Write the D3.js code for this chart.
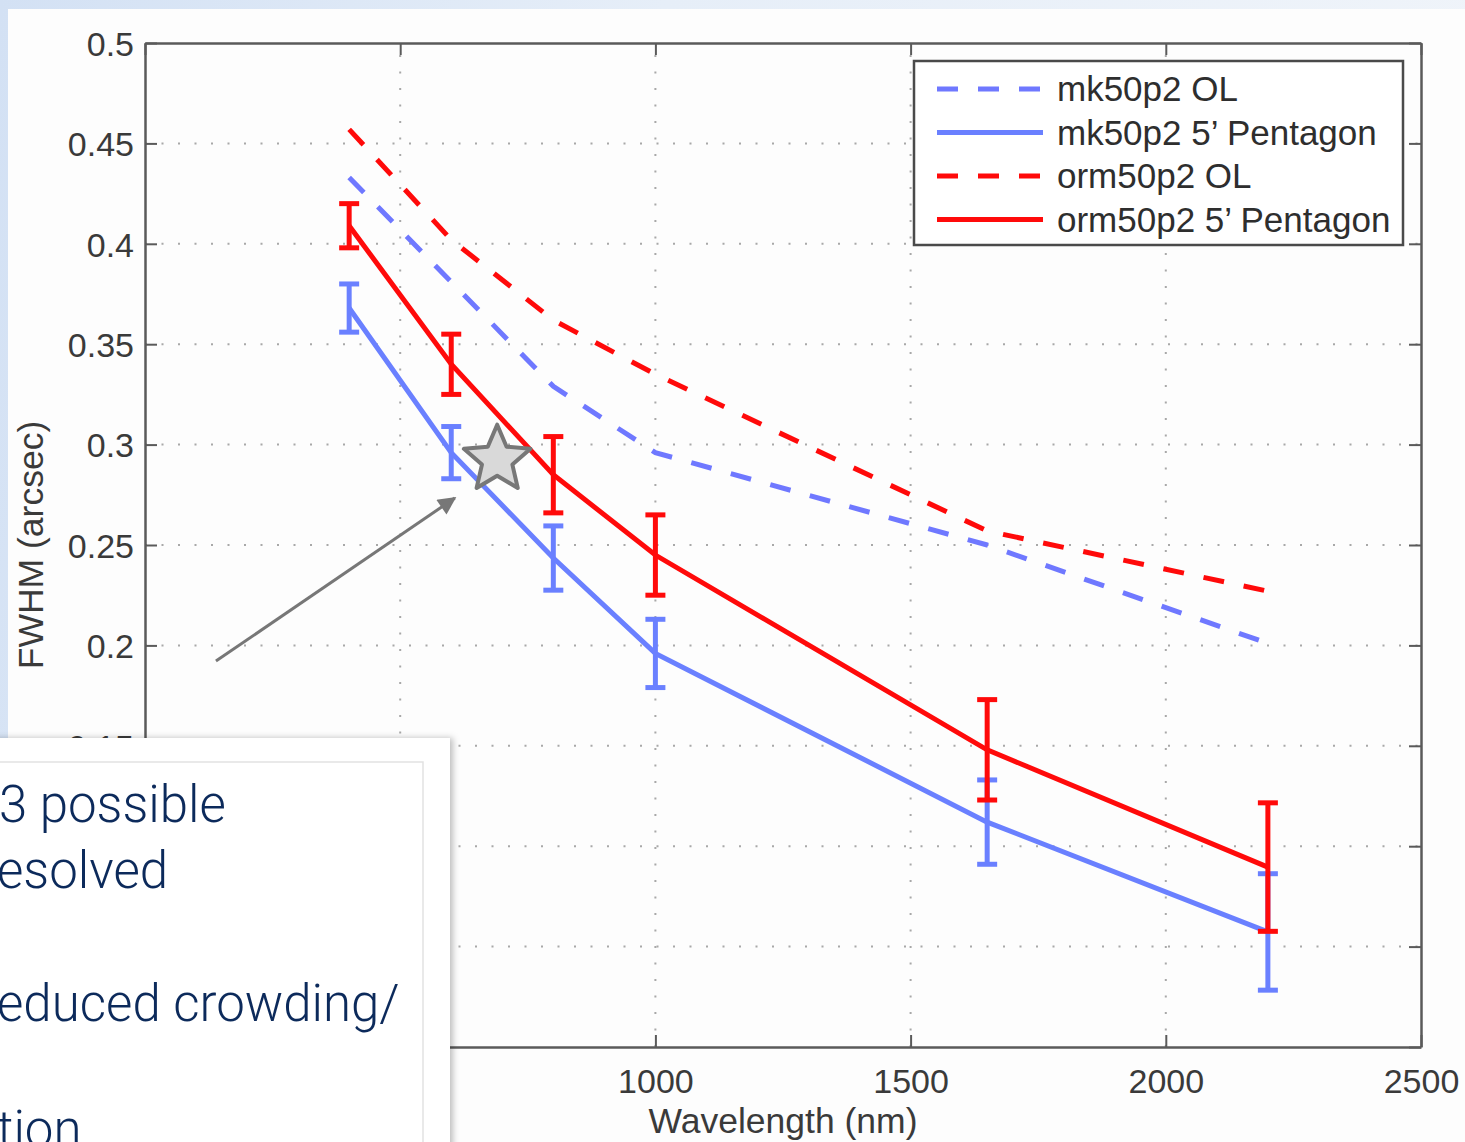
<!DOCTYPE html>
<html>
<head>
<meta charset="utf-8">
<script src="https://d3js.org/d3.v7.min.js"></script>
<style>
  html, body { margin: 0; padding: 0; }
  body {
    width: 1465px; height: 1142px; overflow: hidden;
    background: linear-gradient(100deg, #d3e1f4 0%, #e6eef8 40%, #f1f5fa 100%);
  }
  svg { display: block; }
</style>
</head>
<body>
<svg id="chart" width="1465" height="1142"></svg>
<script>
// wavelengths (nm) of the six simulated bands
const wavelengths = [400, 600, 800, 1000, 1650, 2200];

// FWHM (arcsec)
const mkOL = [0.433, 0.381, 0.329, 0.296, 0.250, 0.201];
const mkPentagon = [0.368, 0.296, 0.2435, 0.196, 0.112, 0.0573];
const mkPentagonErr = [0.012, 0.013, 0.016, 0.017, 0.021, 0.029];
const ormOL = [0.457, 0.402, 0.362, 0.335, 0.257, 0.227];
const ormPentagon = [0.409, 0.340, 0.285, 0.245, 0.148, 0.0896];
const ormPentagonErr = [0.011, 0.015, 0.019, 0.020, 0.025, 0.032];

const xTicks = [0, 500, 1000, 1500, 2000, 2500];
const yTicks = [0, 0.05, 0.1, 0.15, 0.2, 0.25, 0.3, 0.35, 0.4, 0.45, 0.5];

const legendLabels = ["mk50p2 OL", "mk50p2 5\u2019 Pentagon", "orm50p2 OL", "orm50p2 5\u2019 Pentagon"];

const overlayLines = ["3 possible", "esolved", "educed crowding/", "tion"];

const blue = "#6a80ff", blueDash = "#6f78ff", red = "#ff0a0a";
const font = "'Liberation Sans', Arial, Helvetica, sans-serif";

const svg = d3.select("#chart");

// white figure sheet
svg.append("rect")
  .attr("x", 8).attr("y", 9)
  .attr("width", 1465).attr("height", 1142)
  .attr("fill", "#fdfdfd");

const x = d3.scaleLinear().domain([0, 2500]).range([145, 1421]);
const y = d3.scaleLinear().domain([0, 0.5]).range([1047, 43]);

// dotted grid
const grid = svg.append("g")
  .attr("stroke", "#a8a8a8")
  .attr("stroke-width", 2)
  .attr("stroke-dasharray", "2,14.5");

grid.selectAll("line.gx")
  .data(xTicks.slice(1, -1))
  .enter()
  .append("line")
  .attr("x1", d => x(d)).attr("x2", d => x(d))
  .attr("y1", y(0)).attr("y2", y(0.5));

grid.selectAll("line.gy")
  .data(yTicks.slice(1, -1))
  .enter()
  .append("line")
  .attr("x1", x(0)).attr("x2", x(2500))
  .attr("y1", d => y(d)).attr("y2", d => y(d));

// axes (matlab style box, ticks inward on all sides)
const axisColor = "#5a5a5a";
const tickFmt = d3.format("~g");

const axBottom = svg.append("g")
  .attr("transform", `translate(0,${y(0)})`)
  .call(d3.axisBottom(x).tickValues(xTicks).tickSizeInner(-12).tickSizeOuter(0).tickPadding(22).tickFormat(tickFmt));
const axTop = svg.append("g")
  .attr("transform", `translate(0,${y(0.5)})`)
  .call(d3.axisTop(x).tickValues(xTicks).tickSizeInner(-12).tickSizeOuter(0).tickFormat(""));
const axLeft = svg.append("g")
  .attr("transform", `translate(${x(0)},0)`)
  .call(d3.axisLeft(y).tickValues(yTicks).tickSizeInner(-12).tickSizeOuter(0).tickPadding(11).tickFormat(tickFmt));
const axRight = svg.append("g")
  .attr("transform", `translate(${x(2500)},0)`)
  .call(d3.axisRight(y).tickValues(yTicks).tickSizeInner(-12).tickSizeOuter(0).tickFormat(""));

[axBottom, axTop, axLeft, axRight].forEach(g => {
  g.select(".domain").attr("stroke", axisColor).attr("stroke-width", 2.5);
  g.selectAll(".tick line").attr("stroke", axisColor).attr("stroke-width", 2);
  g.selectAll(".tick text")
    .attr("fill", "#3a3a3a")
    .style("font-family", font)
    .style("font-size", "34px");
});
axLeft.selectAll(".tick text").attr("dy", "0.36em");

// axis titles
svg.append("text")
  .attr("x", (x(0) + x(2500)) / 2)
  .attr("y", 1133)
  .attr("text-anchor", "middle")
  .attr("fill", "#3a3a3a")
  .style("font-family", font)
  .style("font-size", "35.5px")
  .text("Wavelength (nm)");

svg.append("text")
  .attr("transform", `translate(43,${(y(0) + y(0.5)) / 2}) rotate(-90)`)
  .attr("text-anchor", "middle")
  .attr("fill", "#3a3a3a")
  .style("font-family", font)
  .style("font-size", "35.5px")
  .text("FWHM (arcsec)");

// series
const line = d3.line()
  .x(d => x(d.w))
  .y(d => y(d.v));

function rows(values, errs) {
  return wavelengths.map((w, i) => ({ w: w, v: values[i], e: errs ? errs[i] : 0 }));
}

const series = [
  { data: rows(mkOL), color: blueDash, dash: "21,20", err: false },
  { data: rows(ormOL), color: red, dash: "21,20", err: false },
  { data: rows(mkPentagon, mkPentagonErr), color: blue, dash: null, err: true },
  { data: rows(ormPentagon, ormPentagonErr), color: red, dash: null, err: true }
];

series.forEach(s => {
  const g = svg.append("g");
  g.append("path")
    .datum(s.data)
    .attr("fill", "none")
    .attr("stroke", s.color)
    .attr("stroke-width", 5)
    .attr("stroke-dasharray", s.dash)
    .attr("d", line);

  if (s.err) {
    const bars = g.selectAll("g.err")
      .data(s.data)
      .enter()
      .append("g")
      .attr("stroke", s.color)
      .attr("stroke-width", 5);
    bars.append("line")
      .attr("x1", d => x(d.w)).attr("x2", d => x(d.w))
      .attr("y1", d => y(d.v - d.e)).attr("y2", d => y(d.v + d.e));
    bars.append("line")
      .attr("x1", d => x(d.w) - 10).attr("x2", d => x(d.w) + 10)
      .attr("y1", d => y(d.v + d.e)).attr("y2", d => y(d.v + d.e));
    bars.append("line")
      .attr("x1", d => x(d.w) - 10).attr("x2", d => x(d.w) + 10)
      .attr("y1", d => y(d.v - d.e)).attr("y2", d => y(d.v - d.e));
  }
});

// legend
const legend = svg.append("g");
legend.append("rect")
  .attr("x", 914).attr("y", 61)
  .attr("width", 489).attr("height", 184)
  .attr("fill", "#fff")
  .attr("stroke", "#4a4a4a")
  .attr("stroke-width", 2.5);

const legendStyle = [
  { color: blueDash, dash: "21,20" },
  { color: blue, dash: null },
  { color: red, dash: "21,20" },
  { color: red, dash: null }
];

const entries = legend.selectAll("g.entry")
  .data(legendLabels)
  .enter()
  .append("g")
  .attr("transform", (d, i) => `translate(0,${89 + i * 43.5})`);

entries.append("line")
  .attr("x1", 937).attr("x2", 1043)
  .attr("y1", 0).attr("y2", 0)
  .attr("stroke", (d, i) => legendStyle[i].color)
  .attr("stroke-width", 5)
  .attr("stroke-dasharray", (d, i) => legendStyle[i].dash);

entries.append("text")
  .attr("x", 1057)
  .attr("y", 12)
  .attr("fill", "#2e2e2e")
  .style("font-family", font)
  .style("font-size", "35px")
  .text(d => d);

// annotation: arrow + star
const defs = svg.append("defs");
defs.append("marker")
  .attr("id", "head")
  .attr("viewBox", "0 0 10 10")
  .attr("refX", 9).attr("refY", 5)
  .attr("markerWidth", 7).attr("markerHeight", 6)
  .attr("markerUnits", "strokeWidth")
  .attr("orient", "auto")
  .append("path")
  .attr("d", "M0,0 L10,5 L0,10 z")
  .attr("fill", "#777");

svg.append("line")
  .attr("x1", x(139)).attr("y1", y(0.1922))
  .attr("x2", x(607)).attr("y2", y(0.2734))
  .attr("stroke", "#777")
  .attr("stroke-width", 3)
  .attr("marker-end", "url(#head)");

const starPts = d3.range(10).map(i => {
  const r = i % 2 === 0 ? 35 : 16;
  const a = -Math.PI / 2 + i * Math.PI / 5;
  return [r * Math.cos(a), r * Math.sin(a)];
});
svg.append("path")
  .attr("transform", `translate(${x(690)},${y(0.2925)})`)
  .attr("d", "M" + starPts.join("L") + "Z")
  .attr("fill", "#d9d9d9")
  .attr("stroke", "#777")
  .attr("stroke-width", 4)
  .attr("stroke-linejoin", "round");

// slide text box overlapping the chart
defs.append("filter")
  .attr("id", "shadow")
  .attr("x", "-10%").attr("y", "-10%").attr("width", "130%").attr("height", "130%")
  .append("feDropShadow")
  .attr("dx", 3).attr("dy", 0)
  .attr("stdDeviation", 3)
  .attr("flood-color", "#000")
  .attr("flood-opacity", 0.25);

svg.append("rect")
  .attr("x", -20).attr("y", 738)
  .attr("width", 470).attr("height", 450)
  .attr("fill", "#fff")
  .attr("filter", "url(#shadow)");

svg.append("rect")
  .attr("x", -20).attr("y", 762)
  .attr("width", 443).attr("height", 420)
  .attr("fill", "none")
  .attr("stroke", "#e2e2e2")
  .attr("stroke-width", 1.5);

svg.append("g")
  .selectAll("text")
  .data(overlayLines)
  .enter()
  .append("text")
  .attr("x", (d, i) => [-1, -3, -3, -3][i])
  .attr("y", (d, i) => [822, 888, 1021, 1147][i])
  .attr("fill", "#0c2a5b")
  .style("font-family", "Roboto, 'Liberation Sans', sans-serif")
  .style("font-weight", 300)
  .style("font-size", "51px")
  .text(d => d);
</script>
</body>
</html>
